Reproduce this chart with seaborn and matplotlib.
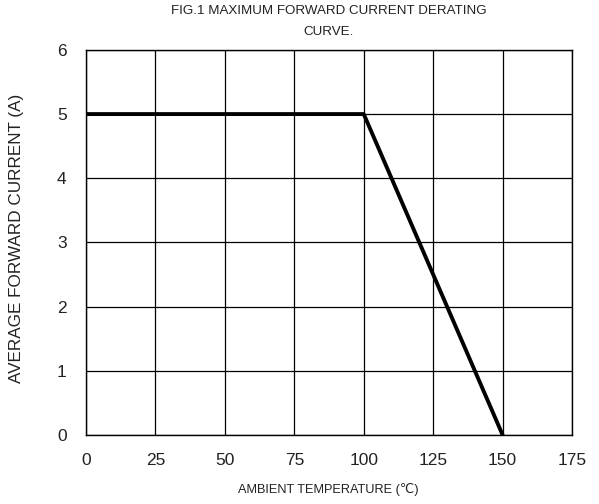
import matplotlib
matplotlib.use('Agg')
import matplotlib.pyplot as plt
from matplotlib import font_manager
import pandas as pd
import seaborn as sns

# derating curve
temperature = [0, 100, 150]
current = [5, 5, 0]
x_ticks = [0, 25, 50, 75, 100, 125, 150, 175]
y_ticks = [0, 1, 2, 3, 4, 5, 6]

df = pd.DataFrame({'temperature': temperature, 'current': current})

sns.set_style('white')
plt.rcParams['font.family'] = ['Liberation Sans', 'DejaVu Sans']

names = {f.name for f in font_manager.fontManager.ttflist}
if 'Liberation Sans Narrow' in names:
    narrow = ['Liberation Sans Narrow', 'DejaVu Sans']
    title_size, xlab_size = 11.5, 11.2
else:
    narrow = ['Liberation Sans', 'DejaVu Sans']
    title_size, xlab_size = 9.6, 9.2

fig = plt.figure(figsize=(5.99, 5.04), dpi=100)
ax = fig.add_axes([0.1436, 0.137, 0.8114, 0.764])

sns.lineplot(data=df, x='temperature', y='current', color='black', linewidth=2.8, ax=ax)

ax.set_xlim(0, 175)
ax.set_ylim(0, 6)
ax.set_xticks(x_ticks)
ax.set_yticks(y_ticks)
ax.grid(True, color='black', linewidth=0.9)
for s in ax.spines.values():
    s.set_color('black')
    s.set_linewidth(1.0)
ax.tick_params(axis='both', length=0, labelsize=12.5, colors='#222222')
ax.tick_params(axis='x', pad=13)
ax.tick_params(axis='y', pad=14)
ax.set_xlabel('')
ax.set_ylabel('')

fig.text(328.5 / 599, 1 - 489 / 504, 'AMBIENT TEMPERATURE (\u2103)', ha='center', va='center',
         fontsize=xlab_size, color='#222222', family=narrow)
fig.text(17 / 599, 1 - 238 / 504, 'AVERAGE FORWARD CURRENT (A)', ha='center', va='center',
         rotation=90, fontsize=12.3, color='#222222')
fig.text(329 / 599, 1 - 11 / 504, 'FIG.1 MAXIMUM FORWARD CURRENT DERATING', ha='center', va='center',
         fontsize=title_size, color='#222222', family=narrow)
fig.text(329 / 599, 1 - 32 / 504, 'CURVE.', ha='center', va='center',
         fontsize=title_size, color='#222222', family=narrow)

plt.savefig('out.png', dpi=100)
